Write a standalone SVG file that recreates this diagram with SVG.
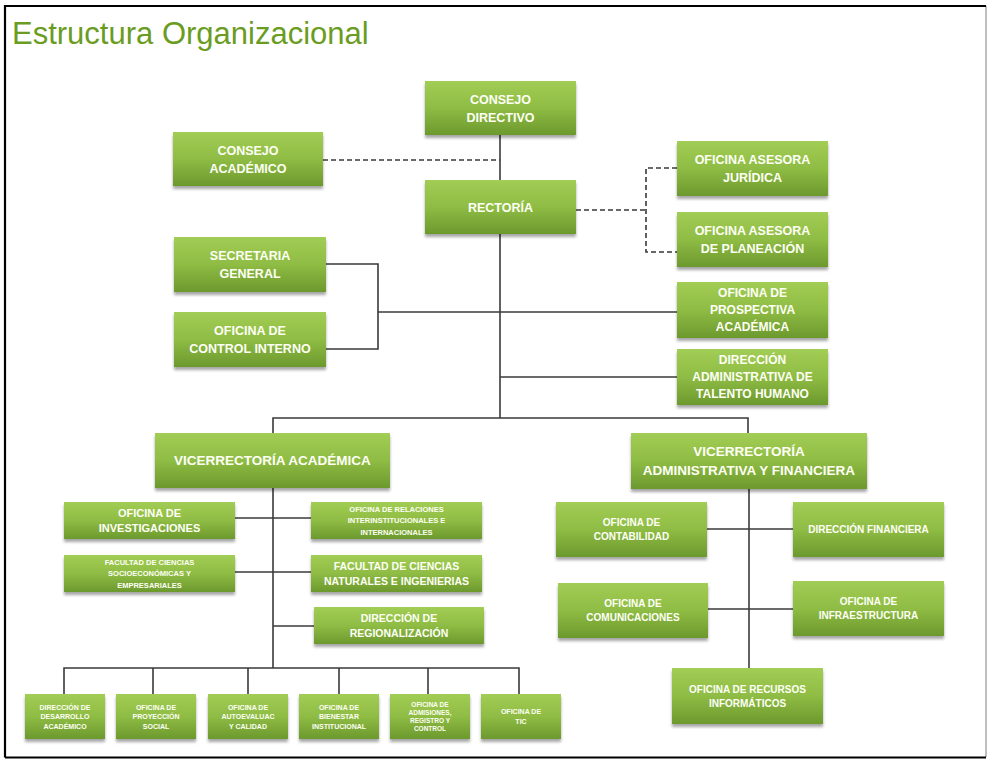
<svg xmlns="http://www.w3.org/2000/svg" width="987" height="765" viewBox="0 0 987 765">
<defs>
<linearGradient id="g" x1="0" y1="0" x2="0" y2="1">
<stop offset="0" stop-color="#a2cd55"/>
<stop offset="0.5" stop-color="#8fbc44"/>
<stop offset="1" stop-color="#6c992d"/>
</linearGradient>
<filter id="sh" x="-10%" y="-10%" width="120%" height="140%">
<feDropShadow dx="0" dy="3" stdDeviation="1.6" flood-color="#000" flood-opacity="0.35"/>
</filter>
<style>
.box{fill:url(#g);filter:url(#sh)}
.t{font-family:"Liberation Sans",Arial,sans-serif;font-weight:bold;fill:#fdfff5;text-anchor:middle}
.f125{font-size:12.5px}
.f12{font-size:12px}
.f135{font-size:13.5px}
.f11{font-size:11px}
.f105{font-size:10.5px}
.f10{font-size:10px}
.f75{font-size:7.5px}
.f7{font-size:7px}
.f65{font-size:6.5px}
.ln{stroke:#3a3a3a;stroke-width:1.6;fill:none}
.dash{stroke:#3a3a3a;stroke-width:1.6;fill:none;stroke-dasharray:5 3}
</style>
</defs>
<rect x="0" y="0" width="987" height="765" fill="#ffffff"/>
<path d="M986 6 V757" stroke="#a8a8a8" stroke-width="1.5" fill="none"/>
<path d="M5 757.5 V6 H986 M5 757.5 H986" stroke="#000" stroke-width="2.2" fill="none"/>
<text x="12" y="44" font-family="'Liberation Sans',Arial,sans-serif" font-size="31" fill="#6a9c22">Estructura Organizacional</text>

<g id="connectors">
<path class="ln" d="M500 135 V180"/>
<path class="dash" d="M323 160 H500"/>
<path class="ln" d="M500 234 V418"/>
<path class="dash" d="M576 210 H646"/>
<path class="dash" d="M677 168 H646 V252 H677"/>
<path class="ln" d="M326 264 H378 V349 H326"/>
<path class="ln" d="M378 312 H677"/>
<path class="ln" d="M500 377 H677"/>
<path class="ln" d="M273 433 V418 H748 V433"/>
<path class="ln" d="M273 488 V668"/>
<path class="ln" d="M235 518 H311"/>
<path class="ln" d="M235 572 H311"/>
<path class="ln" d="M273 626 H314"/>
<path class="ln" d="M64 694 V668 H519 V694"/>
<path class="ln" d="M153 668 V694"/>
<path class="ln" d="M248 668 V694"/>
<path class="ln" d="M339 668 V694"/>
<path class="ln" d="M428 668 V694"/>
<path class="ln" d="M749 489 V668"/>
<path class="ln" d="M707 529 H793"/>
<path class="ln" d="M708 609 H793"/>
</g>

<g id="consejo-directivo"><rect class="box" x="425" y="81" width="151" height="54"/>
<text class="t f125"><tspan x="500.5" y="103.5">CONSEJO</tspan><tspan x="500.5" y="121.5">DIRECTIVO</tspan></text></g>

<g id="consejo-academico"><rect class="box" x="173" y="132" width="150" height="54"/>
<text class="t f125"><tspan x="248" y="154.5">CONSEJO</tspan><tspan x="248" y="172.5">ACADÉMICO</tspan></text></g>

<g id="rectoria"><rect class="box" x="425" y="180" width="151" height="54"/>
<text class="t f125"><tspan x="500.5" y="211.5">RECTORÍA</tspan></text></g>

<g id="oficina-juridica"><rect class="box" x="677" y="141" width="151" height="55"/>
<text class="t f125"><tspan x="752.5" y="164">OFICINA ASESORA</tspan><tspan x="752.5" y="182">JURÍDICA</tspan></text></g>

<g id="oficina-planeacion"><rect class="box" x="677" y="212" width="151" height="55"/>
<text class="t f125"><tspan x="752.5" y="235">OFICINA ASESORA</tspan><tspan x="752.5" y="253">DE PLANEACIÓN</tspan></text></g>

<g id="secretaria-general"><rect class="box" x="174" y="237" width="152" height="55"/>
<text class="t f125"><tspan x="250" y="260">SECRETARIA</tspan><tspan x="250" y="278">GENERAL</tspan></text></g>

<g id="control-interno"><rect class="box" x="174" y="312" width="152" height="55"/>
<text class="t f125"><tspan x="250" y="335">OFICINA DE</tspan><tspan x="250" y="353">CONTROL INTERNO</tspan></text></g>

<g id="prospectiva-academica"><rect class="box" x="677" y="282" width="151" height="56"/>
<text class="t f12"><tspan x="752.5" y="297.3">OFICINA DE</tspan><tspan x="752.5" y="314.3">PROSPECTIVA</tspan><tspan x="752.5" y="331.3">ACADÉMICA</tspan></text></g>

<g id="talento-humano"><rect class="box" x="677" y="349" width="151" height="56"/>
<text class="t f12"><tspan x="752.5" y="364.3">DIRECCIÓN</tspan><tspan x="752.5" y="381.3">ADMINISTRATIVA DE</tspan><tspan x="752.5" y="398.3">TALENTO HUMANO</tspan></text></g>

<g id="vicerrectoria-academica"><rect class="box" x="155" y="433" width="235" height="55"/>
<text class="t f135"><tspan x="272.5" y="465.3">VICERRECTORÍA ACADÉMICA</tspan></text></g>

<g id="vicerrectoria-administrativa"><rect class="box" x="631" y="433" width="236" height="56"/>
<text class="t f135"><tspan x="749" y="456.3">VICERRECTORÍA</tspan><tspan x="749" y="475.3">ADMINISTRATIVA Y FINANCIERA</tspan></text></g>

<g id="investigaciones"><rect class="box" x="64" y="502" width="171" height="37"/>
<text class="t f11"><tspan x="149.5" y="517">OFICINA DE</tspan><tspan x="149.5" y="532">INVESTIGACIONES</tspan></text></g>

<g id="relaciones"><rect class="box" x="311" y="502" width="171" height="37"/>
<text class="t f75"><tspan x="396.5" y="511.7">OFICINA DE RELACIONES</tspan><tspan x="396.5" y="523.2">INTERINSTITUCIONALES E</tspan><tspan x="396.5" y="534.7">INTERNACIONALES</tspan></text></g>

<g id="facultad-socioeconomicas"><rect class="box" x="64" y="555" width="171" height="37"/>
<text class="t f75"><tspan x="149.5" y="564.7">FACULTAD DE CIENCIAS</tspan><tspan x="149.5" y="576.2">SOCIOECONÓMICAS Y</tspan><tspan x="149.5" y="587.7">EMPRESARIALES</tspan></text></g>

<g id="facultad-naturales"><rect class="box" x="311" y="555" width="171" height="37"/>
<text class="t f105"><tspan x="396.5" y="570">FACULTAD DE CIENCIAS</tspan><tspan x="396.5" y="584.5">NATURALES E INGENIERIAS</tspan></text></g>

<g id="regionalizacion"><rect class="box" x="314" y="607" width="170" height="37"/>
<text class="t f105"><tspan x="399" y="622">DIRECCIÓN DE</tspan><tspan x="399" y="636.5">REGIONALIZACIÓN</tspan></text></g>

<g id="contabilidad"><rect class="box" x="556" y="502" width="151" height="55"/>
<text class="t f10"><tspan x="631.5" y="526.1">OFICINA DE</tspan><tspan x="631.5" y="540.1">CONTABILIDAD</tspan></text></g>

<g id="direccion-financiera"><rect class="box" x="793" y="502" width="151" height="55"/>
<text class="t f10"><tspan x="868.5" y="533.1">DIRECCIÓN FINANCIERA</tspan></text></g>

<g id="comunicaciones"><rect class="box" x="558" y="583" width="150" height="55"/>
<text class="t f10"><tspan x="633" y="607.1">OFICINA DE</tspan><tspan x="633" y="621.1">COMUNICACIONES</tspan></text></g>

<g id="infraestructura"><rect class="box" x="793" y="581" width="151" height="55"/>
<text class="t f10"><tspan x="868.5" y="605.1">OFICINA DE</tspan><tspan x="868.5" y="619.1">INFRAESTRUCTURA</tspan></text></g>

<g id="recursos-informaticos"><rect class="box" x="672" y="668" width="151" height="56"/>
<text class="t f10"><tspan x="747.5" y="692.6">OFICINA DE RECURSOS</tspan><tspan x="747.5" y="706.6">INFORMÁTICOS</tspan></text></g>

<g id="desarrollo-academico"><rect class="box" x="25" y="694" width="80" height="45"/>
<text class="t f7"><tspan x="65" y="709.5">DIRECCIÓN DE</tspan><tspan x="65" y="719">DESARROLLO</tspan><tspan x="65" y="728.5">ACADÉMICO</tspan></text></g>

<g id="proyeccion-social"><rect class="box" x="116" y="694" width="80" height="45"/>
<text class="t f7"><tspan x="156" y="709.5">OFICINA DE</tspan><tspan x="156" y="719">PROYECCIÓN</tspan><tspan x="156" y="728.5">SOCIAL</tspan></text></g>

<g id="autoevaluacion"><rect class="box" x="208" y="694" width="80" height="45"/>
<text class="t f7"><tspan x="248" y="709.5">OFICINA DE</tspan><tspan x="248" y="719">AUTOEVALUAC</tspan><tspan x="248" y="728.5">Y CALIDAD</tspan></text></g>

<g id="bienestar"><rect class="box" x="299" y="694" width="80" height="45"/>
<text class="t f7"><tspan x="339" y="709.5">OFICINA DE</tspan><tspan x="339" y="719">BIENESTAR</tspan><tspan x="339" y="728.5">INSTITUCIONAL</tspan></text></g>

<g id="admisiones"><rect class="box" x="390" y="694" width="80" height="45"/>
<text class="t f65"><tspan x="430" y="706.9">OFICINA DE</tspan><tspan x="430" y="714.9">ADMISIONES,</tspan><tspan x="430" y="722.9">REGISTRO Y</tspan><tspan x="430" y="730.9">CONTROL</tspan></text></g>

<g id="tic"><rect class="box" x="481" y="694" width="80" height="45"/>
<text class="t f7"><tspan x="521" y="714.3">OFICINA DE</tspan><tspan x="521" y="723.8">TIC</tspan></text></g>
</svg>
